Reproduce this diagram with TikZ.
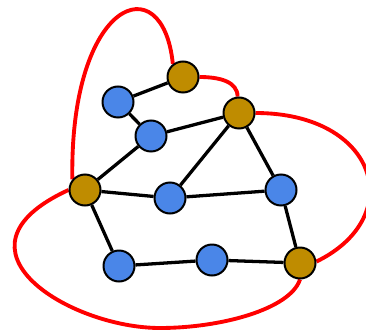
\documentclass[tikz,border=0pt]{standalone}
\usepackage{tikz}
\usetikzlibrary{backgrounds}
\definecolor{vgold}{RGB}{191,140,0}
\definecolor{vblue}{RGB}{74,134,232}
\tikzset{
  vtx/.style={circle,draw=black,line width=1.7pt,minimum size=0.93cm,inner sep=0pt},
  gv/.style={vtx,fill=vgold},
  bv/.style={vtx,fill=vblue},
  gedge/.style={line width=2.8pt,black},
  redarc/.style={line width=3.3pt,red},
}
\begin{document}
\begin{tikzpicture}[x=0.03cm,y=0.03cm]
  \useasboundingbox (0,0) rectangle (366,331);
  % gold vertices
  \node[gv] (g1) at (183,254) {};
  \node[gv] (g2) at (239,218) {};
  \node[gv] (g3) at (85,141) {};
  \node[gv] (g4) at (300,68) {};
  % blue vertices
  \node[bv] (b1) at (118,229) {};
  \node[bv] (b2) at (151,195) {};
  \node[bv] (b3) at (170,133) {};
  \node[bv] (b4) at (281,141) {};
  \node[bv] (b5) at (119,65) {};
  \node[bv] (b6) at (212,71) {};
  \coordinate (bot) at (160,3);
  \begin{scope}[on background layer]
    \draw[gedge] (b1) -- (g1);
    \draw[gedge] (b1) -- (b2);
    \draw[gedge] (b2) -- (g2);
    \draw[gedge] (b2) -- (g3);
    \draw[gedge] (g2) -- (b3);
    \draw[gedge] (g2) -- (b4);
    \draw[gedge] (g3) -- (b3);
    \draw[gedge] (b3) -- (b4);
    \draw[gedge] (g3) -- (b5);
    \draw[gedge] (b5) -- (b6);
    \draw[gedge] (b6) -- (g4);
    \draw[gedge] (b4) -- (g4);
    % red arcs
    \draw[redarc] (g3.140) .. controls +(-3,180) and +(-10,100) .. (g1.128);
    \draw[redarc] (g1.east) .. controls +(20,0) and +(0,15) .. (g2.95);
    \draw[redarc] (g2.east) .. controls +(122,0) and +(92,45) .. (g4.5);
    \draw[redarc] (g3.west) .. controls (-60,82) and (70,3) .. (bot)
      .. controls (220,3) and +(-10,-30) .. (g4.south);
  \end{scope}
\end{tikzpicture}
\end{document}
